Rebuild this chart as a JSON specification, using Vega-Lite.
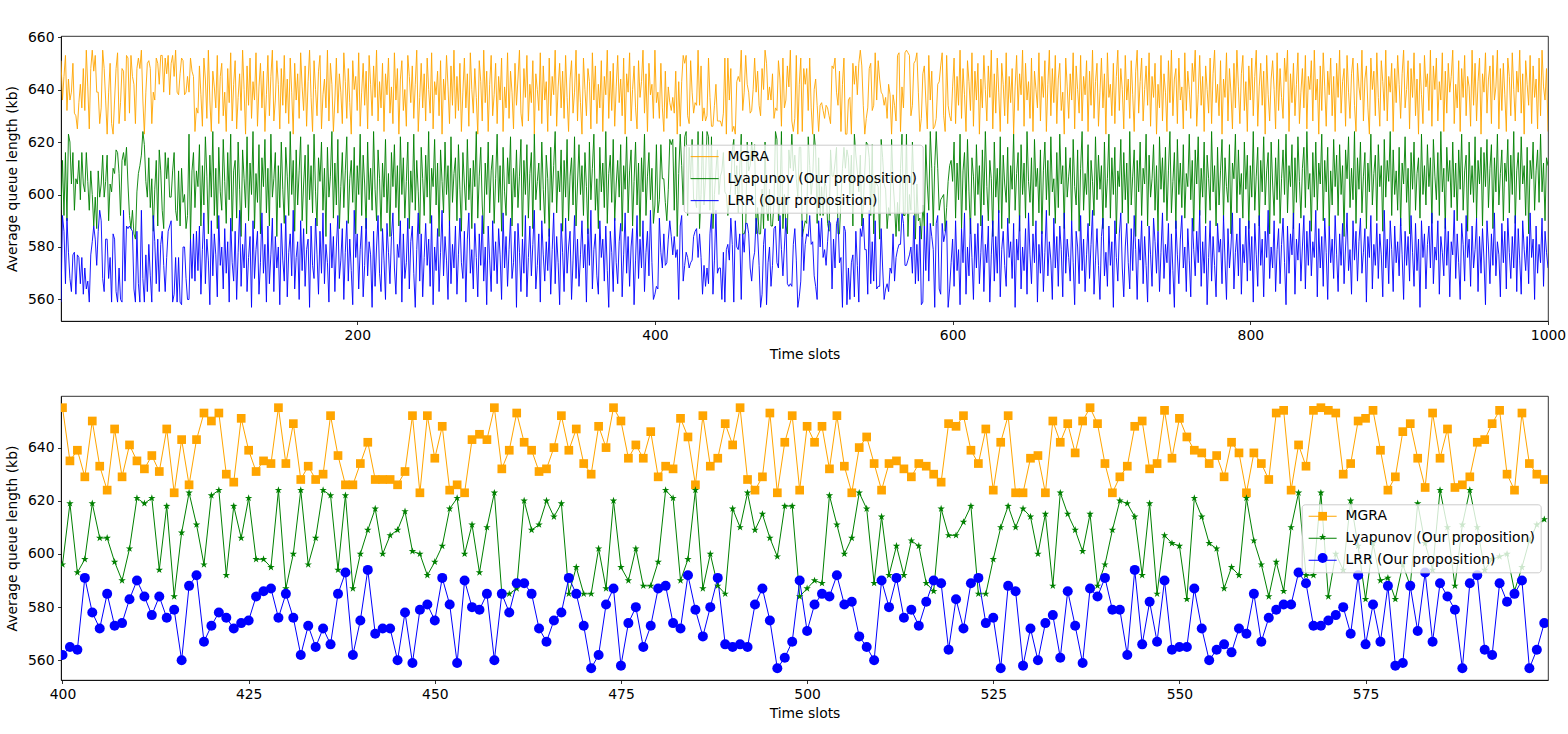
{
"$schema":"https://vega.github.io/schema/vega-lite/v6.json",
"background":"white",
"padding":{"left":5,"top":29,"right":5,"bottom":5},
"spacing":32,
"resolve":{"scale":{"color":"independent","shape":"independent"},"legend":{"color":"independent","shape":"independent"}},
"config":{
"font":"DejaVu Sans",
"view":{"stroke":"black","strokeWidth":0.8},
"axis":{"domainColor":"black","domainWidth":0.8,"grid":false,"tickColor":"black","tickWidth":0.8,"tickSize":3.5,"labelFont":"DejaVu Sans","labelFontSize":13.9,"labelColor":"black","labelPadding":3.5,"titleFont":"DejaVu Sans","titleFontSize":13.9,"titleFontWeight":"normal","titleColor":"black"},
"legend":{"labelFont":"DejaVu Sans","labelFontSize":13.9,"labelColor":"black","labelLimit":400,"fillColor":"rgba(255,255,255,0.8)","strokeColor":"#cccccc","cornerRadius":3,"padding":5}
},
"datasets":{"d":[
{"t":1,"a":651,"b":594,"c":559},{"t":2,"a":636,"b":613,"c":592},{"t":3,"a":645,"b":592,"c":586},{"t":4,"a":653,"b":616,"c":566},{"t":5,"a":632,"b":590,"c":591},{"t":6,"a":644,"b":623,"c":578},{"t":7,"a":636,"b":620,"c":568},{"t":8,"a":639,"b":604,"c":563},{"t":9,"a":650,"b":616,"c":577},{"t":10,"a":631,"b":594,"c":578},
{"t":11,"a":630,"b":606,"c":562},{"t":12,"a":625,"b":604,"c":577},{"t":13,"a":635,"b":613,"c":576},{"t":14,"a":642,"b":598,"c":566},{"t":15,"a":633,"b":616,"c":576},{"t":16,"a":648,"b":604,"c":562},{"t":17,"a":632,"b":601,"c":572},{"t":18,"a":655,"b":616,"c":564},{"t":19,"a":641,"b":605,"c":567},{"t":20,"a":625,"b":594,"c":559},
{"t":21,"a":648,"b":609,"c":577},{"t":22,"a":655,"b":600,"c":582},{"t":23,"a":647,"b":588,"c":588},{"t":24,"a":653,"b":599,"c":583},{"t":25,"a":639,"b":587,"c":573},{"t":26,"a":639,"b":609,"c":586},{"t":27,"a":627,"b":599,"c":594},{"t":28,"a":633,"b":604,"c":590},{"t":29,"a":655,"b":615,"c":568},{"t":30,"a":648,"b":599,"c":563},
{"t":31,"a":636,"b":605,"c":583},{"t":32,"a":623,"b":615,"c":583},{"t":33,"a":639,"b":590,"c":568},{"t":34,"a":650,"b":604,"c":576},{"t":35,"a":627,"b":601,"c":559},{"t":36,"a":623,"b":610,"c":585},{"t":37,"a":636,"b":608,"c":583},{"t":38,"a":648,"b":617,"c":563},{"t":39,"a":654,"b":616,"c":559},{"t":40,"a":627,"b":608,"c":572},
{"t":41,"a":635,"b":592,"c":560},{"t":42,"a":648,"b":613,"c":559},{"t":43,"a":647,"b":616,"c":594},{"t":44,"a":628,"b":611,"c":567},{"t":45,"a":653,"b":618,"c":588},{"t":46,"a":652,"b":604,"c":587},{"t":47,"a":631,"b":592,"c":588},{"t":48,"a":653,"b":587,"c":587},{"t":49,"a":645,"b":594,"c":586},{"t":50,"a":642,"b":585,"c":564},
{"t":51,"a":627,"b":583,"c":559},{"t":52,"a":648,"b":601,"c":586},{"t":53,"a":652,"b":608,"c":566},{"t":54,"a":648,"b":611,"c":559},{"t":55,"a":655,"b":615,"c":594},{"t":56,"a":636,"b":624,"c":568},{"t":57,"a":623,"b":619,"c":559},{"t":58,"a":639,"b":605,"c":577},{"t":59,"a":650,"b":599,"c":563},{"t":60,"a":651,"b":614,"c":581},
{"t":61,"a":648,"b":595,"c":569},{"t":62,"a":627,"b":606,"c":559},{"t":63,"a":639,"b":586,"c":592},{"t":64,"a":636,"b":602,"c":582},{"t":65,"a":652,"b":613,"c":566},{"t":66,"a":650,"b":588,"c":583},{"t":67,"a":642,"b":617,"c":563},{"t":68,"a":653,"b":609,"c":581},{"t":69,"a":653,"b":594,"c":586},{"t":70,"a":639,"b":587,"c":573},
{"t":71,"a":652,"b":616,"c":563},{"t":72,"a":646,"b":606,"c":576},{"t":73,"a":653,"b":614,"c":586},{"t":74,"a":638,"b":599,"c":588},{"t":75,"a":650,"b":599,"c":590},{"t":76,"a":653,"b":609,"c":559},{"t":77,"a":645,"b":616,"c":562},{"t":78,"a":655,"b":594,"c":576},{"t":79,"a":639,"b":590,"c":559},{"t":80,"a":638,"b":609,"c":576},
{"t":81,"a":646,"b":588,"c":559},{"t":82,"a":652,"b":610,"c":558},{"t":83,"a":651,"b":597,"c":580},{"t":84,"a":638,"b":600,"c":580},{"t":85,"a":639,"b":587,"c":568},{"t":86,"a":645,"b":592,"c":560},{"t":87,"a":639,"b":623,"c":560},{"t":88,"a":652,"b":583,"c":583},{"t":89,"a":647,"b":609,"c":568},{"t":90,"a":645,"b":616,"c":585},
{"t":91,"a":624,"b":595,"c":567},{"t":92,"a":633,"b":609,"c":586},{"t":93,"a":631,"b":603,"c":571},{"t":94,"a":649,"b":619,"c":588},{"t":95,"a":638,"b":588,"c":562},{"t":96,"a":626,"b":611,"c":579},{"t":97,"a":652,"b":596,"c":593},{"t":98,"a":644,"b":622,"c":566},{"t":99,"a":629,"b":607,"c":583},{"t":100,"a":655,"b":585,"c":575},
{"t":101,"a":636,"b":615,"c":558},{"t":102,"a":624,"b":599,"c":590},{"t":103,"a":647,"b":624,"c":569},{"t":104,"a":641,"b":592,"c":585},{"t":105,"a":633,"b":610,"c":577},{"t":106,"a":653,"b":587,"c":561},{"t":107,"a":627,"b":618,"c":592},{"t":108,"a":645,"b":601,"c":573},{"t":109,"a":650,"b":594,"c":580},{"t":110,"a":630,"b":621,"c":564},
{"t":111,"a":639,"b":605,"c":587},{"t":112,"a":624,"b":589,"c":570},{"t":113,"a":648,"b":616,"c":582},{"t":114,"a":635,"b":598,"c":559},{"t":115,"a":654,"b":623,"c":591},{"t":116,"a":628,"b":586,"c":574},{"t":117,"a":642,"b":609,"c":567},{"t":118,"a":651,"b":613,"c":586},{"t":119,"a":625,"b":591,"c":560},{"t":120,"a":637,"b":620,"c":578},
{"t":121,"a":646,"b":602,"c":594},{"t":122,"a":632,"b":584,"c":565},{"t":123,"a":655,"b":617,"c":581},{"t":124,"a":640,"b":606,"c":572},{"t":125,"a":623,"b":595,"c":589},{"t":126,"a":649,"b":622,"c":563},{"t":127,"a":634,"b":590,"c":576},{"t":128,"a":652,"b":612,"c":584},{"t":129,"a":629,"b":600,"c":557},{"t":130,"a":643,"b":624,"c":590},
{"t":131,"a":636,"b":587,"c":568},{"t":132,"a":654,"b":608,"c":579},{"t":133,"a":626,"b":597,"c":586},{"t":134,"a":641,"b":619,"c":562},{"t":135,"a":650,"b":585,"c":574},{"t":136,"a":633,"b":614,"c":593},{"t":137,"a":647,"b":603,"c":570},{"t":138,"a":624,"b":621,"c":581},{"t":139,"a":638,"b":593,"c":559},{"t":140,"a":653,"b":610,"c":588},
{"t":141,"a":630,"b":588,"c":566},{"t":142,"a":645,"b":623,"c":577},{"t":143,"a":655,"b":599,"c":591},{"t":144,"a":628,"b":606,"c":563},{"t":145,"a":636,"b":616,"c":584},{"t":146,"a":651,"b":584,"c":572},{"t":147,"a":642,"b":611,"c":580},{"t":148,"a":625,"b":595,"c":558},{"t":149,"a":648,"b":620,"c":589},{"t":150,"a":634,"b":602,"c":575},
{"t":151,"a":653,"b":589,"c":567},{"t":152,"a":631,"b":618,"c":592},{"t":153,"a":644,"b":607,"c":561},{"t":154,"a":627,"b":592,"c":578},{"t":155,"a":652,"b":624,"c":585},{"t":156,"a":639,"b":600,"c":569},{"t":157,"a":623,"b":613,"c":594},{"t":158,"a":650,"b":586,"c":564},{"t":159,"a":636,"b":617,"c":576},{"t":160,"a":646,"b":596,"c":582},
{"t":161,"a":629,"b":609,"c":560},{"t":162,"a":654,"b":622,"c":590},{"t":163,"a":641,"b":590,"c":571},{"t":164,"a":632,"b":604,"c":587},{"t":165,"a":649,"b":615,"c":565},{"t":166,"a":626,"b":585,"c":579},{"t":167,"a":643,"b":619,"c":583},{"t":168,"a":655,"b":598,"c":557},{"t":169,"a":637,"b":611,"c":588},{"t":170,"a":624,"b":593,"c":573},
{"t":171,"a":651,"b":623,"c":568},{"t":172,"a":640,"b":601,"c":591},{"t":173,"a":630,"b":588,"c":577},{"t":174,"a":647,"b":614,"c":562},{"t":175,"a":653,"b":605,"c":586},{"t":176,"a":625,"b":620,"c":570},{"t":177,"a":638,"b":594,"c":593},{"t":178,"a":644,"b":610,"c":566},{"t":179,"a":633,"b":584,"c":581},{"t":180,"a":655,"b":618,"c":574},
{"t":181,"a":628,"b":599,"c":559},{"t":182,"a":650,"b":607,"c":589},{"t":183,"a":642,"b":624,"c":572},{"t":184,"a":624,"b":591,"c":584},{"t":185,"a":636,"b":612,"c":563},{"t":186,"a":652,"b":596,"c":580},{"t":187,"a":631,"b":621,"c":592},{"t":188,"a":646,"b":587,"c":568},{"t":189,"a":639,"b":603,"c":575},{"t":190,"a":627,"b":616,"c":587},
{"t":191,"a":654,"b":595,"c":560},{"t":192,"a":643,"b":609,"c":578},{"t":193,"a":629,"b":622,"c":590},{"t":194,"a":648,"b":589,"c":567},{"t":195,"a":635,"b":606,"c":583},{"t":196,"a":623,"b":613,"c":571},{"t":197,"a":651,"b":597,"c":558},{"t":198,"a":640,"b":618,"c":594},{"t":199,"a":645,"b":585,"c":576},{"t":200,"a":632,"b":611,"c":585},
{"t":201,"a":654,"b":600,"c":564},{"t":202,"a":626,"b":623,"c":579},{"t":203,"a":639,"b":592,"c":588},{"t":204,"a":650,"b":615,"c":561},{"t":205,"a":634,"b":604,"c":573},{"t":206,"a":647,"b":587,"c":591},{"t":207,"a":625,"b":620,"c":569},{"t":208,"a":653,"b":598,"c":582},{"t":209,"a":642,"b":610,"c":577},{"t":210,"a":630,"b":594,"c":557},
{"t":211,"a":649,"b":624,"c":586},{"t":212,"a":637,"b":602,"c":565},{"t":213,"a":655,"b":590,"c":580},{"t":214,"a":628,"b":617,"c":592},{"t":215,"a":643,"b":606,"c":570},{"t":216,"a":633,"b":586,"c":563},{"t":217,"a":650,"b":612,"c":587},{"t":218,"a":624,"b":599,"c":575},{"t":219,"a":646,"b":621,"c":560},{"t":220,"a":638,"b":593,"c":589},
{"t":221,"a":652,"b":608,"c":578},{"t":222,"a":631,"b":584,"c":566},{"t":223,"a":641,"b":616,"c":584},{"t":224,"a":627,"b":603,"c":593},{"t":225,"a":654,"b":619,"c":572},{"t":226,"a":636,"b":595,"c":562},{"t":227,"a":648,"b":611,"c":581},{"t":228,"a":623,"b":588,"c":576},{"t":229,"a":644,"b":622,"c":590},{"t":230,"a":651,"b":600,"c":559},
{"t":231,"a":632,"b":614,"c":585},{"t":232,"a":640,"b":591,"c":568},{"t":233,"a":626,"b":605,"c":574},{"t":234,"a":653,"b":620,"c":591},{"t":235,"a":645,"b":587,"c":564},{"t":236,"a":635,"b":609,"c":582},{"t":237,"a":649,"b":597,"c":588},{"t":238,"a":629,"b":623,"c":570},{"t":239,"a":642,"b":594,"c":557},{"t":240,"a":655,"b":613,"c":579},
{"t":241,"a":624,"b":601,"c":593},{"t":242,"a":637,"b":585,"c":567},{"t":243,"a":650,"b":618,"c":585},{"t":244,"a":633,"b":606,"c":561},{"t":245,"a":646,"b":592,"c":576},{"t":246,"a":628,"b":615,"c":589},{"t":247,"a":652,"b":599,"c":573},{"t":248,"a":640,"b":624,"c":583},{"t":249,"a":631,"b":589,"c":565},{"t":250,"a":654,"b":610,"c":592},
{"t":251,"a":625,"b":603,"c":558},{"t":252,"a":643,"b":621,"c":580},{"t":253,"a":638,"b":596,"c":571},{"t":254,"a":647,"b":612,"c":587},{"t":255,"a":630,"b":584,"c":563},{"t":256,"a":651,"b":617,"c":578},{"t":257,"a":623,"b":605,"c":594},{"t":258,"a":644,"b":593,"c":569},{"t":259,"a":636,"b":620,"c":584},{"t":260,"a":653,"b":600,"c":575},
{"t":261,"a":641,"b":611,"c":560},{"t":262,"a":627,"b":588,"c":590},{"t":263,"a":649,"b":622,"c":566},{"t":264,"a":634,"b":597,"c":581},{"t":265,"a":655,"b":608,"c":572},{"t":266,"a":629,"b":614,"c":588},{"t":267,"a":645,"b":590,"c":562},{"t":268,"a":632,"b":619,"c":577},{"t":269,"a":650,"b":602,"c":591},{"t":270,"a":624,"b":586,"c":574},
{"t":271,"a":639,"b":616,"c":568},{"t":272,"a":652,"b":604,"c":586},{"t":273,"a":633,"b":594,"c":559},{"t":274,"a":646,"b":621,"c":583},{"t":275,"a":626,"b":598,"c":593},{"t":276,"a":654,"b":610,"c":570},{"t":277,"a":640,"b":587,"c":579},{"t":278,"a":631,"b":613,"c":564},{"t":279,"a":648,"b":603,"c":589},{"t":280,"a":637,"b":624,"c":576},
{"t":281,"a":623,"b":591,"c":561},{"t":282,"a":651,"b":607,"c":585},{"t":283,"a":643,"b":618,"c":573},{"t":284,"a":628,"b":596,"c":592},{"t":285,"a":655,"b":585,"c":567},{"t":286,"a":635,"b":612,"c":580},{"t":287,"a":647,"b":600,"c":558},{"t":288,"a":624,"b":620,"c":588},{"t":289,"a":642,"b":593,"c":575},{"t":290,"a":653,"b":609,"c":563},
{"t":291,"a":630,"b":615,"c":590},{"t":292,"a":638,"b":589,"c":571},{"t":293,"a":650,"b":606,"c":582},{"t":294,"a":627,"b":623,"c":566},{"t":295,"a":645,"b":597,"c":587},{"t":296,"a":636,"b":611,"c":577},{"t":297,"a":652,"b":586,"c":560},{"t":298,"a":624,"b":618,"c":593},{"t":299,"a":641,"b":601,"c":572},{"t":300,"a":633,"b":592,"c":584},
{"t":301,"a":654,"b":614,"c":565},{"t":302,"a":629,"b":604,"c":579},{"t":303,"a":647,"b":622,"c":591},{"t":304,"a":639,"b":588,"c":568},{"t":305,"a":625,"b":610,"c":574},{"t":306,"a":650,"b":599,"c":586},{"t":307,"a":634,"b":617,"c":557},{"t":308,"a":644,"b":595,"c":589},{"t":309,"a":655,"b":607,"c":578},{"t":310,"a":631,"b":621,"c":563},
{"t":311,"a":626,"b":584,"c":583},{"t":312,"a":648,"b":613,"c":570},{"t":313,"a":637,"b":600,"c":592},{"t":314,"a":653,"b":619,"c":561},{"t":315,"a":628,"b":591,"c":576},{"t":316,"a":642,"b":608,"c":588},{"t":317,"a":635,"b":616,"c":569},{"t":318,"a":651,"b":587,"c":581},{"t":319,"a":623,"b":623,"c":594},{"t":320,"a":646,"b":598,"c":564},
{"t":321,"a":640,"b":605,"c":573},{"t":322,"a":632,"b":612,"c":585},{"t":323,"a":654,"b":594,"c":559},{"t":324,"a":627,"b":620,"c":590},{"t":325,"a":649,"b":602,"c":577},{"t":326,"a":636,"b":589,"c":567},{"t":327,"a":643,"b":615,"c":582},{"t":328,"a":624,"b":606,"c":571},{"t":329,"a":652,"b":584,"c":587},{"t":330,"a":630,"b":618,"c":562},
{"t":331,"a":645,"b":597,"c":579},{"t":332,"a":638,"b":611,"c":593},{"t":333,"a":655,"b":624,"c":566},{"t":334,"a":626,"b":593,"c":584},{"t":335,"a":641,"b":609,"c":574},{"t":336,"a":650,"b":601,"c":558},{"t":337,"a":633,"b":617,"c":589},{"t":338,"a":647,"b":586,"c":578},{"t":339,"a":629,"b":613,"c":563},{"t":340,"a":653,"b":599,"c":591},
{"t":341,"a":637,"b":621,"c":570},{"t":342,"a":624,"b":590,"c":580},{"t":343,"a":644,"b":607,"c":586},{"t":344,"a":651,"b":614,"c":560},{"t":345,"a":631,"b":596,"c":575},{"t":346,"a":639,"b":622,"c":592},{"t":347,"a":655,"b":588,"c":568},{"t":348,"a":628,"b":604,"c":583},{"t":349,"a":646,"b":619,"c":565},{"t":350,"a":635,"b":600,"c":577},
{"t":351,"a":623,"b":611,"c":590},{"t":352,"a":652,"b":592,"c":572},{"t":353,"a":640,"b":616,"c":581},{"t":354,"a":630,"b":603,"c":559},{"t":355,"a":648,"b":585,"c":587},{"t":356,"a":643,"b":620,"c":573},{"t":357,"a":625,"b":598,"c":594},{"t":358,"a":654,"b":610,"c":564},{"t":359,"a":636,"b":623,"c":579},{"t":360,"a":649,"b":594,"c":585},
{"t":361,"a":627,"b":606,"c":569},{"t":362,"a":642,"b":587,"c":562},{"t":363,"a":633,"b":618,"c":590},{"t":364,"a":651,"b":601,"c":576},{"t":365,"a":624,"b":612,"c":583},{"t":366,"a":645,"b":595,"c":567},{"t":367,"a":638,"b":624,"c":588},{"t":368,"a":655,"b":589,"c":571},{"t":369,"a":629,"b":608,"c":557},{"t":370,"a":647,"b":615,"c":586},
{"t":371,"a":632,"b":597,"c":578},{"t":372,"a":650,"b":621,"c":563},{"t":373,"a":626,"b":590,"c":591},{"t":374,"a":641,"b":604,"c":574},{"t":375,"a":653,"b":613,"c":566},{"t":376,"a":635,"b":599,"c":582},{"t":377,"a":644,"b":619,"c":589},{"t":378,"a":630,"b":586,"c":561},{"t":379,"a":652,"b":611,"c":577},{"t":380,"a":623,"b":602,"c":593},
{"t":381,"a":646,"b":622,"c":570},{"t":382,"a":639,"b":593,"c":584},{"t":383,"a":654,"b":609,"c":565},{"t":384,"a":628,"b":617,"c":580},{"t":385,"a":640,"b":588,"c":587},{"t":386,"a":649,"b":605,"c":558},{"t":387,"a":633,"b":620,"c":575},{"t":388,"a":625,"b":596,"c":592},{"t":389,"a":651,"b":612,"c":568},{"t":390,"a":637,"b":584,"c":583},
{"t":391,"a":643,"b":614,"c":572},{"t":392,"a":655,"b":601,"c":590},{"t":393,"a":631,"b":623,"c":563},{"t":394,"a":646,"b":592,"c":578},{"t":395,"a":624,"b":607,"c":586},{"t":396,"a":650,"b":616,"c":569},{"t":397,"a":638,"b":598,"c":594},{"t":398,"a":642,"b":610,"c":574},{"t":399,"a":629,"b":589,"c":560},
{"t":400,"a":655,"b":596,"c":562},{"t":401,"a":635,"b":619,"c":565},{"t":402,"a":639,"b":593,"c":564},{"t":403,"a":629,"b":598,"c":591},{"t":404,"a":650,"b":619,"c":578},{"t":405,"a":633,"b":606,"c":572},{"t":406,"a":624,"b":606,"c":585},{"t":407,"a":647,"b":597,"c":573},{"t":408,"a":629,"b":590,"c":574},{"t":409,"a":641,"b":602,"c":583},
{"t":410,"a":635,"b":621,"c":590},{"t":411,"a":632,"b":619,"c":584},{"t":412,"a":637,"b":621,"c":577},{"t":413,"a":631,"b":594,"c":584},{"t":414,"a":647,"b":618,"c":576},{"t":415,"a":623,"b":584,"c":579},{"t":416,"a":643,"b":608,"c":560},{"t":417,"a":626,"b":623,"c":588},{"t":418,"a":643,"b":611,"c":592},{"t":419,"a":653,"b":596,"c":567},
{"t":420,"a":650,"b":622,"c":573},{"t":421,"a":653,"b":624,"c":578},{"t":422,"a":630,"b":592,"c":576},{"t":423,"a":627,"b":618,"c":572},{"t":424,"a":651,"b":606,"c":574},{"t":425,"a":639,"b":621,"c":575},{"t":426,"a":631,"b":598,"c":584},{"t":427,"a":635,"b":598,"c":586},{"t":428,"a":634,"b":595,"c":587},{"t":429,"a":655,"b":624,"c":576},
{"t":430,"a":634,"b":587,"c":585},{"t":431,"a":649,"b":600,"c":576},{"t":432,"a":628,"b":624,"c":562},{"t":433,"a":633,"b":596,"c":573},{"t":434,"a":628,"b":606,"c":565},{"t":435,"a":630,"b":624,"c":572},{"t":436,"a":652,"b":622,"c":566},{"t":437,"a":637,"b":594,"c":585},{"t":438,"a":626,"b":622,"c":593},{"t":439,"a":626,"b":587,"c":562},
{"t":440,"a":634,"b":600,"c":575},{"t":441,"a":642,"b":609,"c":594},{"t":442,"a":628,"b":617,"c":570},{"t":443,"a":628,"b":600,"c":572},{"t":444,"a":628,"b":607,"c":572},{"t":445,"a":626,"b":609,"c":560},{"t":446,"a":631,"b":616,"c":578},{"t":447,"a":652,"b":601,"c":559},{"t":448,"a":623,"b":600,"c":579},{"t":449,"a":652,"b":592,"c":581},
{"t":450,"a":636,"b":597,"c":575},{"t":451,"a":648,"b":603,"c":591},{"t":452,"a":624,"b":617,"c":581},{"t":453,"a":626,"b":621,"c":559},{"t":454,"a":623,"b":600,"c":590},{"t":455,"a":643,"b":611,"c":580},{"t":456,"a":645,"b":593,"c":579},{"t":457,"a":643,"b":610,"c":585},{"t":458,"a":655,"b":623,"c":560},{"t":459,"a":632,"b":585,"c":585},
{"t":460,"a":639,"b":585,"c":578},{"t":461,"a":653,"b":587,"c":589},{"t":462,"a":642,"b":620,"c":589},{"t":463,"a":639,"b":609,"c":585},{"t":464,"a":631,"b":611,"c":572},{"t":465,"a":632,"b":620,"c":567},{"t":466,"a":640,"b":614,"c":575},{"t":467,"a":652,"b":619,"c":578},{"t":468,"a":639,"b":585,"c":591},{"t":469,"a":647,"b":595,"c":585},
{"t":470,"a":634,"b":585,"c":573},{"t":471,"a":630,"b":585,"c":557},{"t":472,"a":648,"b":602,"c":562},{"t":473,"a":640,"b":587,"c":581},{"t":474,"a":655,"b":620,"c":587},{"t":475,"a":650,"b":595,"c":558},{"t":476,"a":636,"b":590,"c":574},{"t":477,"a":641,"b":602,"c":580},{"t":478,"a":636,"b":588,"c":565},{"t":479,"a":646,"b":588,"c":573},
{"t":480,"a":629,"b":597,"c":587},{"t":481,"a":633,"b":624,"c":588},{"t":482,"a":632,"b":621,"c":574},{"t":483,"a":651,"b":590,"c":572},{"t":484,"a":644,"b":598,"c":592},{"t":485,"a":626,"b":624,"c":579},{"t":486,"a":652,"b":587,"c":569},{"t":487,"a":633,"b":600,"c":580},{"t":488,"a":636,"b":588,"c":591},{"t":489,"a":649,"b":585,"c":566},
{"t":490,"a":641,"b":617,"c":565},{"t":491,"a":655,"b":610,"c":566},{"t":492,"a":628,"b":623,"c":565},{"t":493,"a":624,"b":609,"c":581},{"t":494,"a":629,"b":615,"c":587},{"t":495,"a":653,"b":606,"c":575},{"t":496,"a":623,"b":599,"c":557},{"t":497,"a":642,"b":618,"c":561},{"t":498,"a":652,"b":618,"c":567},{"t":499,"a":624,"b":584,"c":590},
{"t":500,"a":648,"b":587,"c":571},{"t":501,"a":642,"b":590,"c":581},{"t":502,"a":648,"b":589,"c":585},{"t":503,"a":632,"b":622,"c":584},{"t":504,"a":652,"b":611,"c":592},{"t":505,"a":633,"b":600,"c":581},{"t":506,"a":623,"b":606,"c":582},{"t":507,"a":640,"b":623,"c":569},{"t":508,"a":644,"b":617,"c":565},{"t":509,"a":634,"b":589,"c":560},
{"t":510,"a":624,"b":614,"c":590},{"t":511,"a":634,"b":592,"c":580},{"t":512,"a":635,"b":603,"c":591},{"t":513,"a":632,"b":592,"c":576},{"t":514,"a":629,"b":605,"c":579},{"t":515,"a":634,"b":603,"c":573},{"t":516,"a":633,"b":589,"c":582},{"t":517,"a":630,"b":586,"c":590},{"t":518,"a":627,"b":617,"c":589},{"t":519,"a":649,"b":607,"c":564},
{"t":520,"a":648,"b":607,"c":583},{"t":521,"a":652,"b":612,"c":572},{"t":522,"a":639,"b":618,"c":589},{"t":523,"a":634,"b":585,"c":591},{"t":524,"a":647,"b":585,"c":574},{"t":525,"a":624,"b":598,"c":576},{"t":526,"a":642,"b":610,"c":557},{"t":527,"a":652,"b":618,"c":588},{"t":528,"a":623,"b":610,"c":586},{"t":529,"a":623,"b":617,"c":558},
{"t":530,"a":636,"b":614,"c":572},{"t":531,"a":637,"b":600,"c":560},{"t":532,"a":623,"b":615,"c":574},{"t":533,"a":650,"b":588,"c":577},{"t":534,"a":642,"b":623,"c":561},{"t":535,"a":649,"b":615,"c":586},{"t":536,"a":638,"b":609,"c":573},{"t":537,"a":650,"b":601,"c":559},{"t":538,"a":655,"b":615,"c":587},{"t":539,"a":649,"b":588,"c":584},
{"t":540,"a":634,"b":596,"c":591},{"t":541,"a":623,"b":609,"c":579},{"t":542,"a":629,"b":620,"c":579},{"t":543,"a":633,"b":619,"c":562},{"t":544,"a":648,"b":614,"c":594},{"t":545,"a":650,"b":592,"c":566},{"t":546,"a":632,"b":619,"c":582},{"t":547,"a":634,"b":585,"c":567},{"t":548,"a":654,"b":607,"c":590},{"t":549,"a":636,"b":604,"c":564},
{"t":550,"a":651,"b":603,"c":565},{"t":551,"a":644,"b":583,"c":565},{"t":552,"a":639,"b":621,"c":587},{"t":553,"a":638,"b":614,"c":572},{"t":554,"a":634,"b":604,"c":560},{"t":555,"a":637,"b":602,"c":564},{"t":556,"a":629,"b":587,"c":566},{"t":557,"a":642,"b":595,"c":563},{"t":558,"a":638,"b":592,"c":572},{"t":559,"a":623,"b":621,"c":570},
{"t":560,"a":638,"b":605,"c":585},{"t":561,"a":634,"b":596,"c":567},{"t":562,"a":628,"b":584,"c":576},{"t":563,"a":653,"b":597,"c":579},{"t":564,"a":654,"b":586,"c":581},{"t":565,"a":624,"b":610,"c":581},{"t":566,"a":641,"b":623,"c":593},{"t":567,"a":633,"b":592,"c":589},{"t":568,"a":654,"b":592,"c":573},{"t":569,"a":655,"b":623,"c":573},
{"t":570,"a":654,"b":584,"c":575},{"t":571,"a":653,"b":600,"c":577},{"t":572,"a":630,"b":594,"c":580},{"t":573,"a":634,"b":620,"c":570},{"t":574,"a":650,"b":603,"c":592},{"t":575,"a":651,"b":583,"c":566},{"t":576,"a":654,"b":604,"c":581},{"t":577,"a":639,"b":590,"c":567},{"t":578,"a":624,"b":591,"c":588},{"t":579,"a":629,"b":583,"c":558},
{"t":580,"a":646,"b":596,"c":559},{"t":581,"a":649,"b":588,"c":588},{"t":582,"a":636,"b":619,"c":571},{"t":583,"a":625,"b":604,"c":593},{"t":584,"a":653,"b":594,"c":567},{"t":585,"a":636,"b":624,"c":589},{"t":586,"a":647,"b":610,"c":584},{"t":587,"a":625,"b":588,"c":579},{"t":588,"a":626,"b":611,"c":557},{"t":589,"a":629,"b":624,"c":589},
{"t":590,"a":642,"b":610,"c":592},{"t":591,"a":643,"b":594,"c":564},{"t":592,"a":649,"b":598,"c":562},{"t":593,"a":654,"b":599,"c":589},{"t":594,"a":630,"b":600,"c":582},{"t":595,"a":624,"b":586,"c":585},{"t":596,"a":653,"b":595,"c":590},{"t":597,"a":634,"b":605,"c":557},{"t":598,"a":630,"b":611,"c":564},{"t":599,"a":628,"b":613,"c":574},
{"t":600,"a":641,"b":605,"c":583},{"t":601,"a":652,"b":620,"c":565},{"t":602,"a":627,"b":591,"c":590},{"t":603,"a":645,"b":612,"c":571},{"t":604,"a":634,"b":598,"c":579},{"t":605,"a":655,"b":623,"c":558},{"t":606,"a":629,"b":587,"c":587},{"t":607,"a":648,"b":609,"c":574},{"t":608,"a":638,"b":616,"c":593},{"t":609,"a":624,"b":594,"c":562},
{"t":610,"a":651,"b":621,"c":580},{"t":611,"a":643,"b":601,"c":569},{"t":612,"a":632,"b":585,"c":591},{"t":613,"a":654,"b":614,"c":576},{"t":614,"a":626,"b":607,"c":560},{"t":615,"a":647,"b":592,"c":585},{"t":616,"a":636,"b":619,"c":572},{"t":617,"a":650,"b":600,"c":589},{"t":618,"a":623,"b":611,"c":566},{"t":619,"a":644,"b":588,"c":578},
{"t":620,"a":633,"b":617,"c":592},{"t":621,"a":653,"b":596,"c":563},{"t":622,"a":640,"b":624,"c":581},{"t":623,"a":628,"b":603,"c":574},{"t":624,"a":649,"b":590,"c":588},{"t":625,"a":637,"b":613,"c":559},{"t":626,"a":655,"b":606,"c":577},{"t":627,"a":625,"b":584,"c":590},{"t":628,"a":646,"b":620,"c":567},{"t":629,"a":631,"b":599,"c":584},
{"t":630,"a":652,"b":610,"c":570},{"t":631,"a":639,"b":593,"c":594},{"t":632,"a":624,"b":622,"c":561},{"t":633,"a":650,"b":587,"c":579},{"t":634,"a":642,"b":615,"c":586},{"t":635,"a":630,"b":604,"c":573},{"t":636,"a":654,"b":597,"c":565},{"t":637,"a":627,"b":618,"c":591},{"t":638,"a":645,"b":589,"c":576},{"t":639,"a":635,"b":611,"c":582},
{"t":640,"a":648,"b":602,"c":568},{"t":641,"a":623,"b":623,"c":589},{"t":642,"a":641,"b":594,"c":557},{"t":643,"a":653,"b":608,"c":583},{"t":644,"a":632,"b":616,"c":575},{"t":645,"a":646,"b":586,"c":592},{"t":646,"a":638,"b":619,"c":564},{"t":647,"a":655,"b":600,"c":580},{"t":648,"a":626,"b":612,"c":571},{"t":649,"a":650,"b":591,"c":587},
{"t":650,"a":636,"b":624,"c":562},{"t":651,"a":643,"b":605,"c":593},{"t":652,"a":629,"b":597,"c":577},{"t":653,"a":652,"b":614,"c":566},{"t":654,"a":624,"b":588,"c":585},{"t":655,"a":647,"b":621,"c":574},{"t":656,"a":640,"b":603,"c":590},{"t":657,"a":633,"b":610,"c":559},{"t":658,"a":654,"b":593,"c":581},{"t":659,"a":628,"b":617,"c":570},
{"t":660,"a":645,"b":585,"c":586},{"t":661,"a":637,"b":609,"c":563},{"t":662,"a":651,"b":620,"c":578},{"t":663,"a":624,"b":598,"c":594},{"t":664,"a":642,"b":613,"c":569},{"t":665,"a":655,"b":592,"c":582},{"t":666,"a":630,"b":622,"c":575},{"t":667,"a":648,"b":601,"c":560},{"t":668,"a":635,"b":606,"c":591},{"t":669,"a":653,"b":589,"c":572},
{"t":670,"a":627,"b":616,"c":584},{"t":671,"a":644,"b":595,"c":565},{"t":672,"a":650,"b":623,"c":588},{"t":673,"a":632,"b":604,"c":579},{"t":674,"a":639,"b":611,"c":561},{"t":675,"a":623,"b":587,"c":593},{"t":676,"a":652,"b":618,"c":570},{"t":677,"a":641,"b":599,"c":583},{"t":678,"a":629,"b":607,"c":576},{"t":679,"a":646,"b":614,"c":567},
{"t":680,"a":636,"b":590,"c":590},{"t":681,"a":654,"b":621,"c":574},{"t":682,"a":625,"b":603,"c":558},{"t":683,"a":649,"b":596,"c":586},{"t":684,"a":640,"b":617,"c":580},{"t":685,"a":631,"b":586,"c":566},{"t":686,"a":653,"b":610,"c":592},{"t":687,"a":628,"b":624,"c":571},{"t":688,"a":645,"b":594,"c":583},{"t":689,"a":638,"b":608,"c":563},
{"t":690,"a":651,"b":600,"c":577},{"t":691,"a":624,"b":619,"c":589},{"t":692,"a":647,"b":588,"c":568},{"t":693,"a":634,"b":613,"c":581},{"t":694,"a":655,"b":605,"c":594},{"t":695,"a":629,"b":592,"c":562},{"t":696,"a":643,"b":622,"c":575},{"t":697,"a":650,"b":598,"c":587},{"t":698,"a":626,"b":615,"c":573},{"t":699,"a":639,"b":602,"c":560},
{"t":700,"a":652,"b":611,"c":584},{"t":701,"a":633,"b":587,"c":591},{"t":702,"a":646,"b":620,"c":569},{"t":703,"a":623,"b":595,"c":578},{"t":704,"a":654,"b":606,"c":565},{"t":705,"a":637,"b":623,"c":588},{"t":706,"a":642,"b":591,"c":573},{"t":707,"a":630,"b":614,"c":582},{"t":708,"a":650,"b":600,"c":557},{"t":709,"a":627,"b":618,"c":590},
{"t":710,"a":645,"b":585,"c":576},{"t":711,"a":655,"b":609,"c":567},{"t":712,"a":632,"b":603,"c":585},{"t":713,"a":648,"b":621,"c":593},{"t":714,"a":640,"b":593,"c":572},{"t":715,"a":625,"b":616,"c":561},{"t":716,"a":653,"b":598,"c":580},{"t":717,"a":636,"b":612,"c":589},{"t":718,"a":644,"b":589,"c":574},{"t":719,"a":629,"b":624,"c":564},
{"t":720,"a":651,"b":596,"c":587},{"t":721,"a":638,"b":607,"c":571},{"t":722,"a":624,"b":617,"c":592},{"t":723,"a":647,"b":584,"c":579},{"t":724,"a":655,"b":613,"c":560},{"t":725,"a":631,"b":601,"c":583},{"t":726,"a":643,"b":620,"c":575},{"t":727,"a":652,"b":592,"c":590},{"t":728,"a":628,"b":610,"c":566},{"t":729,"a":640,"b":604,"c":584},
{"t":730,"a":649,"b":623,"c":573},{"t":731,"a":634,"b":588,"c":559},{"t":732,"a":654,"b":615,"c":588},{"t":733,"a":626,"b":599,"c":577},{"t":734,"a":645,"b":606,"c":565},{"t":735,"a":637,"b":619,"c":591},{"t":736,"a":650,"b":594,"c":582},{"t":737,"a":623,"b":611,"c":570},{"t":738,"a":642,"b":586,"c":586},{"t":739,"a":633,"b":622,"c":563},
{"t":740,"a":653,"b":602,"c":578},{"t":741,"a":628,"b":614,"c":593},{"t":742,"a":646,"b":597,"c":568},{"t":743,"a":639,"b":618,"c":581},{"t":744,"a":624,"b":590,"c":574},{"t":745,"a":651,"b":609,"c":589},{"t":746,"a":635,"b":624,"c":562},{"t":747,"a":655,"b":593,"c":585},{"t":748,"a":630,"b":605,"c":571},{"t":749,"a":644,"b":616,"c":557},
{"t":750,"a":648,"b":587,"c":590},{"t":751,"a":627,"b":621,"c":577},{"t":752,"a":652,"b":600,"c":566},{"t":753,"a":636,"b":612,"c":583},{"t":754,"a":641,"b":595,"c":592},{"t":755,"a":625,"b":619,"c":572},{"t":756,"a":654,"b":591,"c":580},{"t":757,"a":632,"b":608,"c":563},{"t":758,"a":647,"b":603,"c":587},{"t":759,"a":640,"b":623,"c":575},
{"t":760,"a":629,"b":598,"c":561},{"t":761,"a":650,"b":613,"c":591},{"t":762,"a":643,"b":586,"c":579},{"t":763,"a":655,"b":617,"c":569},{"t":764,"a":626,"b":604,"c":586},{"t":765,"a":638,"b":622,"c":574},{"t":766,"a":653,"b":592,"c":594},{"t":767,"a":634,"b":610,"c":565},{"t":768,"a":645,"b":599,"c":582},{"t":769,"a":624,"b":620,"c":570},
{"t":770,"a":649,"b":589,"c":588},{"t":771,"a":640,"b":615,"c":558},{"t":772,"a":631,"b":606,"c":576},{"t":773,"a":652,"b":594,"c":590},{"t":774,"a":627,"b":624,"c":567},{"t":775,"a":646,"b":601,"c":584},{"t":776,"a":655,"b":611,"c":573},{"t":777,"a":635,"b":588,"c":561},{"t":778,"a":642,"b":618,"c":589},{"t":779,"a":630,"b":596,"c":578},
{"t":780,"a":651,"b":609,"c":583},{"t":781,"a":623,"b":621,"c":566},{"t":782,"a":644,"b":590,"c":592},{"t":783,"a":637,"b":614,"c":575},{"t":784,"a":654,"b":603,"c":560},{"t":785,"a":628,"b":597,"c":587},{"t":786,"a":648,"b":619,"c":572},{"t":787,"a":639,"b":585,"c":580},{"t":788,"a":625,"b":612,"c":593},{"t":789,"a":650,"b":606,"c":564},
{"t":790,"a":633,"b":623,"c":578},{"t":791,"a":655,"b":593,"c":585},{"t":792,"a":641,"b":617,"c":569},{"t":793,"a":627,"b":600,"c":591},{"t":794,"a":646,"b":608,"c":562},{"t":795,"a":653,"b":591,"c":581},{"t":796,"a":632,"b":620,"c":574},{"t":797,"a":643,"b":602,"c":588},{"t":798,"a":624,"b":615,"c":567},{"t":799,"a":649,"b":587,"c":590},
{"t":800,"a":636,"b":611,"c":571},{"t":801,"a":652,"b":599,"c":584},{"t":802,"a":630,"b":624,"c":559},{"t":803,"a":645,"b":594,"c":589},{"t":804,"a":655,"b":607,"c":577},{"t":805,"a":626,"b":618,"c":565},{"t":806,"a":641,"b":588,"c":592},{"t":807,"a":650,"b":613,"c":573},{"t":808,"a":634,"b":601,"c":583},{"t":809,"a":647,"b":622,"c":561},
{"t":810,"a":623,"b":596,"c":586},{"t":811,"a":653,"b":609,"c":576},{"t":812,"a":638,"b":616,"c":594},{"t":813,"a":628,"b":585,"c":568},{"t":814,"a":644,"b":620,"c":580},{"t":815,"a":651,"b":604,"c":572},{"t":816,"a":640,"b":592,"c":590},{"t":817,"a":625,"b":614,"c":563},{"t":818,"a":654,"b":598,"c":579},{"t":819,"a":632,"b":621,"c":587},
{"t":820,"a":648,"b":589,"c":566},{"t":821,"a":637,"b":606,"c":581},{"t":822,"a":629,"b":617,"c":591},{"t":823,"a":652,"b":600,"c":574},{"t":824,"a":643,"b":623,"c":558},{"t":825,"a":655,"b":593,"c":588},{"t":826,"a":624,"b":611,"c":570},{"t":827,"a":646,"b":603,"c":585},{"t":828,"a":635,"b":619,"c":577},{"t":829,"a":650,"b":587,"c":593},
{"t":830,"a":630,"b":614,"c":562},{"t":831,"a":642,"b":597,"c":583},{"t":832,"a":654,"b":622,"c":575},{"t":833,"a":627,"b":605,"c":589},{"t":834,"a":639,"b":591,"c":567},{"t":835,"a":648,"b":610,"c":580},{"t":836,"a":633,"b":618,"c":592},{"t":837,"a":653,"b":595,"c":564},{"t":838,"a":625,"b":624,"c":586},{"t":839,"a":645,"b":602,"c":573},
{"t":840,"a":640,"b":608,"c":590},{"t":841,"a":651,"b":586,"c":569},{"t":842,"a":628,"b":616,"c":582},{"t":843,"a":655,"b":599,"c":576},{"t":844,"a":636,"b":620,"c":594},{"t":845,"a":644,"b":594,"c":561},{"t":846,"a":623,"b":612,"c":587},{"t":847,"a":649,"b":604,"c":572},{"t":848,"a":632,"b":623,"c":584},{"t":849,"a":654,"b":590,"c":565},
{"t":850,"a":641,"b":613,"c":591},{"t":851,"a":626,"b":601,"c":578},{"t":852,"a":647,"b":618,"c":560},{"t":853,"a":638,"b":588,"c":588},{"t":854,"a":652,"b":609,"c":574},{"t":855,"a":630,"b":596,"c":583},{"t":856,"a":645,"b":621,"c":568},{"t":857,"a":624,"b":603,"c":592},{"t":858,"a":650,"b":615,"c":577},{"t":859,"a":637,"b":592,"c":563},
{"t":860,"a":655,"b":619,"c":585},{"t":861,"a":631,"b":600,"c":573},{"t":862,"a":643,"b":611,"c":589},{"t":863,"a":648,"b":584,"c":566},{"t":864,"a":626,"b":617,"c":580},{"t":865,"a":653,"b":606,"c":593},{"t":866,"a":639,"b":622,"c":571},{"t":867,"a":629,"b":595,"c":579},{"t":868,"a":646,"b":610,"c":562},{"t":869,"a":652,"b":598,"c":590},
{"t":870,"a":634,"b":624,"c":575},{"t":871,"a":624,"b":589,"c":586},{"t":872,"a":650,"b":614,"c":567},{"t":873,"a":641,"b":602,"c":582},{"t":874,"a":636,"b":620,"c":591},{"t":875,"a":655,"b":593,"c":570},{"t":876,"a":628,"b":607,"c":578},{"t":877,"a":644,"b":616,"c":587},{"t":878,"a":649,"b":587,"c":559},{"t":879,"a":633,"b":612,"c":584},
{"t":880,"a":623,"b":601,"c":576},{"t":881,"a":652,"b":623,"c":592},{"t":882,"a":640,"b":596,"c":564},{"t":883,"a":647,"b":608,"c":581},{"t":884,"a":630,"b":615,"c":573},{"t":885,"a":654,"b":590,"c":589},{"t":886,"a":637,"b":619,"c":568},{"t":887,"a":626,"b":603,"c":585},{"t":888,"a":651,"b":611,"c":577},{"t":889,"a":643,"b":586,"c":561},
{"t":890,"a":632,"b":621,"c":594},{"t":891,"a":655,"b":599,"c":572},{"t":892,"a":628,"b":613,"c":583},{"t":893,"a":645,"b":605,"c":566},{"t":894,"a":639,"b":624,"c":590},{"t":895,"a":650,"b":592,"c":579},{"t":896,"a":624,"b":617,"c":563},{"t":897,"a":648,"b":600,"c":588},{"t":898,"a":635,"b":609,"c":574},{"t":899,"a":653,"b":594,"c":582},
{"t":900,"a":642,"b":618,"c":569},{"t":901,"a":629,"b":588,"c":591},{"t":902,"a":646,"b":612,"c":577},{"t":903,"a":655,"b":604,"c":560},{"t":904,"a":633,"b":622,"c":586},{"t":905,"a":640,"b":597,"c":573},{"t":906,"a":651,"b":610,"c":584},{"t":907,"a":625,"b":585,"c":567},{"t":908,"a":648,"b":616,"c":592},{"t":909,"a":637,"b":602,"c":578},
{"t":910,"a":654,"b":620,"c":565},{"t":911,"a":630,"b":594,"c":589},{"t":912,"a":644,"b":608,"c":571},{"t":913,"a":623,"b":614,"c":583},{"t":914,"a":650,"b":591,"c":557},{"t":915,"a":638,"b":623,"c":590},{"t":916,"a":627,"b":600,"c":576},{"t":917,"a":653,"b":611,"c":585},{"t":918,"a":641,"b":596,"c":564},{"t":919,"a":646,"b":619,"c":581},
{"t":920,"a":632,"b":603,"c":588},{"t":921,"a":655,"b":614,"c":572},{"t":922,"a":626,"b":589,"c":593},{"t":923,"a":649,"b":621,"c":566},{"t":924,"a":640,"b":607,"c":580},{"t":925,"a":652,"b":598,"c":575},{"t":926,"a":628,"b":616,"c":590},{"t":927,"a":643,"b":592,"c":562},{"t":928,"a":636,"b":624,"c":584},{"t":929,"a":654,"b":601,"c":578},
{"t":930,"a":624,"b":610,"c":569},{"t":931,"a":647,"b":587,"c":591},{"t":932,"a":631,"b":618,"c":573},{"t":933,"a":650,"b":605,"c":586},{"t":934,"a":639,"b":613,"c":561},{"t":935,"a":645,"b":595,"c":582},{"t":936,"a":655,"b":620,"c":577},{"t":937,"a":627,"b":599,"c":594},{"t":938,"a":642,"b":612,"c":568},{"t":939,"a":633,"b":590,"c":585},
{"t":940,"a":651,"b":617,"c":574},{"t":941,"a":624,"b":602,"c":560},{"t":942,"a":648,"b":623,"c":589},{"t":943,"a":637,"b":594,"c":581},{"t":944,"a":653,"b":609,"c":567},{"t":945,"a":630,"b":615,"c":592},{"t":946,"a":645,"b":586,"c":576},{"t":947,"a":641,"b":620,"c":583},{"t":948,"a":626,"b":600,"c":565},{"t":949,"a":655,"b":611,"c":588},
{"t":950,"a":634,"b":597,"c":572},{"t":951,"a":650,"b":622,"c":579},{"t":952,"a":628,"b":591,"c":591},{"t":953,"a":643,"b":613,"c":563},{"t":954,"a":652,"b":604,"c":584},{"t":955,"a":623,"b":618,"c":570},{"t":956,"a":646,"b":588,"c":587},{"t":957,"a":639,"b":616,"c":575},{"t":958,"a":654,"b":603,"c":558},{"t":959,"a":631,"b":621,"c":590},
{"t":960,"a":644,"b":595,"c":580},{"t":961,"a":649,"b":610,"c":566},{"t":962,"a":627,"b":619,"c":585},{"t":963,"a":653,"b":587,"c":573},{"t":964,"a":636,"b":614,"c":593},{"t":965,"a":641,"b":601,"c":569},{"t":966,"a":655,"b":623,"c":582},{"t":967,"a":625,"b":596,"c":577},{"t":968,"a":648,"b":608,"c":561},{"t":969,"a":632,"b":617,"c":589},
{"t":970,"a":650,"b":590,"c":574},{"t":971,"a":638,"b":612,"c":586},{"t":972,"a":624,"b":605,"c":564},{"t":973,"a":652,"b":621,"c":591},{"t":974,"a":645,"b":593,"c":578},{"t":975,"a":630,"b":615,"c":568},{"t":976,"a":654,"b":600,"c":584},{"t":977,"a":640,"b":624,"c":572},{"t":978,"a":628,"b":589,"c":592},{"t":979,"a":647,"b":609,"c":563},
{"t":980,"a":639,"b":616,"c":587},{"t":981,"a":655,"b":598,"c":575},{"t":982,"a":631,"b":622,"c":562},{"t":983,"a":646,"b":604,"c":590},{"t":984,"a":623,"b":611,"c":579},{"t":985,"a":651,"b":592,"c":571},{"t":986,"a":642,"b":618,"c":584},{"t":987,"a":634,"b":585,"c":566},{"t":988,"a":653,"b":613,"c":593},{"t":989,"a":627,"b":606,"c":576},
{"t":990,"a":649,"b":620,"c":583},{"t":991,"a":637,"b":594,"c":560},{"t":992,"a":644,"b":609,"c":588},{"t":993,"a":625,"b":617,"c":570},{"t":994,"a":652,"b":597,"c":581},{"t":995,"a":630,"b":623,"c":574},{"t":996,"a":655,"b":601,"c":591},{"t":997,"a":641,"b":612,"c":565},{"t":998,"a":636,"b":590,"c":586},{"t":999,"a":648,"b":614,"c":578},
{"t":1000,"a":624,"b":611,"c":572}
]},
"vconcat":[
{
"width":1487,"height":285,
"data":{"name":"d"},
"transform":[{"fold":["a","b","c"],"as":["s","v"]}],
"mark":{"type":"line","strokeWidth":0.9,"clip":true},
"encoding":{
"x":{"field":"t","type":"quantitative","scale":{"domain":[1,1000],"nice":false,"zero":false},"axis":{"values":[200,400,600,800,1000],"format":"d","title":"Time slots","labelFlush":false,"titlePadding":6}},
"y":{"field":"v","type":"quantitative","scale":{"domain":[551.8,660.4],"nice":false,"zero":false},"axis":{"values":[560,580,600,620,640,660],"title":"Average queue length (kb)","titlePadding":8}},
"color":{"field":"s","type":"nominal","scale":{"domain":["a","b","c"],"range":["#FFA500","#008000","#0000FF"]},
"legend":{"title":null,"orient":"none","legendX":622.7,"legendY":108.7,"labelExpr":"datum.label === 'a' ? 'MGRA' : datum.label === 'b' ? 'Lyapunov (Our proposition)' : 'LRR (Our proposition)'","symbolType":"M-2.8,0H2.8","symbolSize":100,"symbolStrokeWidth":1,"symbolOffset":9,"labelOffset":16,"rowPadding":7}}
}
},
{
"width":1487,"height":284,
"data":{"name":"d"},
"transform":[{"filter":"datum.t >= 400 && datum.t <= 599"},{"fold":["a","b","c"],"as":["s","v"]}],
"encoding":{
"x":{"field":"t","type":"quantitative","scale":{"domain":[399.8,599.5],"nice":false,"zero":false},"axis":{"values":[400,425,450,475,500,525,550,575],"format":"d","title":"Time slots","labelFlush":false,"titlePadding":6}},
"y":{"field":"v","type":"quantitative","scale":{"domain":[552.6,659.4],"nice":false,"zero":false},"axis":{"values":[560,580,600,620,640],"title":"Average queue length (kb)","titlePadding":8}}
},
"resolve":{"scale":{"color":"independent"},"legend":{"color":"independent"}},
"layer":[
{"mark":{"type":"line","strokeWidth":1,"clip":true},
"encoding":{"color":{"field":"s","type":"nominal","scale":{"domain":["a","b","c"],"range":["#FFA500","#008000","#0000FF"]},
"legend":{"title":null,"orient":"none","legendX":1240.7,"legendY":108.3,"labelExpr":"datum.label === 'a' ? 'MGRA' : datum.label === 'b' ? 'Lyapunov (Our proposition)' : 'LRR (Our proposition)'","symbolType":"M-2.8,0H2.8","symbolSize":100,"symbolStrokeWidth":1,"symbolOffset":9,"labelOffset":16,"rowPadding":7}}}},
{"transform":[{"filter":"datum.s === 'a'"}],
"mark":{"type":"point","filled":true,"opacity":1,"size":100,"strokeWidth":0,"clip":true,"shape":"M-0.87,-0.87H0.87V0.87H-0.87Z"},
"encoding":{"color":{"field":"s","type":"nominal","scale":{"domain":["a"],"range":["#FFA500"]},
"legend":{"title":null,"orient":"none","legendX":1240.7,"legendY":108.3,"labelExpr":"'MGRA'","symbolType":"M-0.87,-0.87H0.87V0.87H-0.87Z","symbolSize":100,"symbolStrokeWidth":0,"symbolOffset":9,"labelOffset":16,"rowPadding":7,"fillColor":"transparent","strokeColor":"transparent","labelOpacity":0}}}},
{"transform":[{"filter":"datum.s === 'b'"}],
"mark":{"type":"point","filled":true,"opacity":1,"size":100,"strokeWidth":0,"clip":true,"shape":"M0,-0.78L0.176,-0.243L0.742,-0.241L0.285,0.093L0.458,0.631L0,0.3L-0.458,0.631L-0.285,0.093L-0.742,-0.241L-0.176,-0.243Z"},
"encoding":{"color":{"field":"s","type":"nominal","scale":{"domain":["b"],"range":["#008000"]},
"legend":{"title":null,"orient":"none","legendX":1240.7,"legendY":129.2,"labelExpr":"'Lyapunov (Our proposition)'","symbolType":"M0,-0.78L0.176,-0.243L0.742,-0.241L0.285,0.093L0.458,0.631L0,0.3L-0.458,0.631L-0.285,0.093L-0.742,-0.241L-0.176,-0.243Z","symbolSize":100,"symbolStrokeWidth":0,"symbolOffset":9,"labelOffset":16,"rowPadding":7,"fillColor":"transparent","strokeColor":"transparent","labelOpacity":0}}}},
{"transform":[{"filter":"datum.s === 'c'"}],
"mark":{"type":"point","filled":true,"opacity":1,"size":100,"strokeWidth":0,"clip":true,"shape":"circle"},
"encoding":{"color":{"field":"s","type":"nominal","scale":{"domain":["c"],"range":["#0000FF"]},
"legend":{"title":null,"orient":"none","legendX":1240.7,"legendY":150.1,"labelExpr":"'LRR (Our proposition)'","symbolType":"circle","symbolSize":100,"symbolStrokeWidth":0,"symbolOffset":9,"labelOffset":16,"rowPadding":7,"fillColor":"transparent","strokeColor":"transparent","labelOpacity":0}}}}
]
}
]
}
